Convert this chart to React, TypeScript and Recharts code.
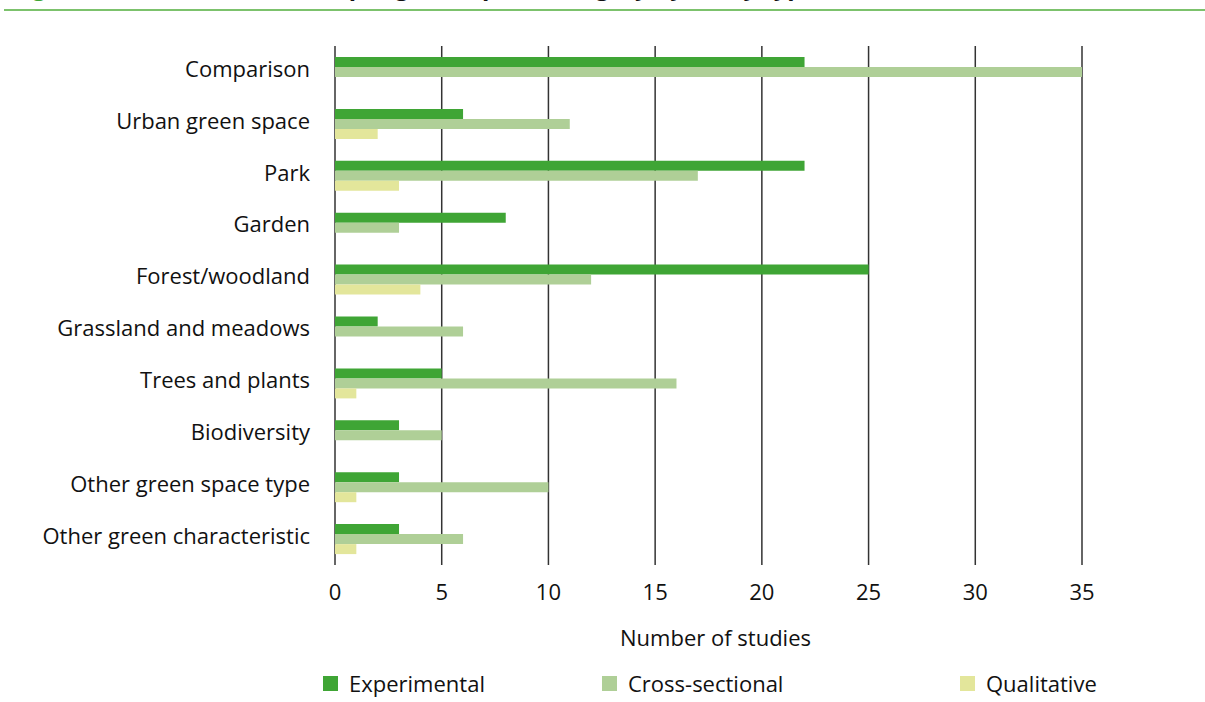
import React from "react";
import {
  BarChart,
  Bar,
  XAxis,
  YAxis,
  CartesianGrid,
  Label,
} from "recharts";

const categories = [
  "Comparison",
  "Urban green space",
  "Park",
  "Garden",
  "Forest/woodland",
  "Grassland and meadows",
  "Trees and plants",
  "Biodiversity",
  "Other green space type",
  "Other green characteristic",
];
const experimental = [22, 6, 22, 8, 25, 2, 5, 3, 3, 3];
const crossSectional = [35, 11, 17, 3, 12, 6, 16, 5, 10, 6];
const qualitative = [0, 2, 3, 0, 4, 0, 1, 0, 1, 1];
const xTicks = [0, 5, 10, 15, 20, 25, 30, 35];

const data = categories.map((name, i) => ({
  name,
  experimental: experimental[i],
  crossSectional: crossSectional[i],
  qualitative: qualitative[i],
}));

const FONT = "'Open Sans', Roboto, sans-serif";
const colors = {
  experimental: "#3fa535",
  crossSectional: "#afcf97",
  qualitative: "#e3e69b",
};

const legendItems = [
  { label: "Experimental", color: colors.experimental, left: 323 },
  { label: "Cross-sectional", color: colors.crossSectional, left: 602 },
  { label: "Qualitative", color: colors.qualitative, left: 960 },
];

export default function App() {
  return (
    <div
      style={{
        position: "absolute",
        left: 0,
        top: 0,
        width: 1205,
        height: 702,
        overflow: "hidden",
        background: "#fff",
        fontFamily: FONT,
      }}
    >
      {/* title, cut off at the top edge like in the source */}
      <div
        style={{
          position: "absolute",
          left: 12,
          top: -28,
          fontSize: 24,
          fontWeight: 700,
          whiteSpace: "nowrap",
          lineHeight: "28px",
        }}
      >
        <span style={{ color: colors.experimental }}>Figure 3:</span>{" "}
        <span style={{ color: "#111" }}>
          Number of studies per green space category by study type
        </span>
      </div>
      <div
        style={{
          position: "absolute",
          left: 4,
          top: 9,
          width: 1201,
          height: 2,
          background: "#7cc26c",
        }}
      />

      <div style={{ position: "absolute", left: 0, top: 0 }}>
        <BarChart
          width={1205}
          height={702}
          layout="vertical"
          data={data}
          margin={{ top: 46, right: 123, bottom: 47, left: 0 }}
          barSize={10}
          barGap={0}
        >
          <CartesianGrid
            horizontal={false}
            stroke="#333"
            strokeWidth={1.5}
          />
          <XAxis
            type="number"
            domain={[0, 35]}
            ticks={xTicks}
            axisLine={false}
            tickLine={false}
            height={90}
            tickMargin={13}
            tick={{ fill: "#111", fontSize: 22, fontFamily: FONT }}
          >
            <Label
              value="Number of studies"
              position="insideBottom"
              offset={9}
              dx={7}
              style={{ fill: "#111", fontSize: 22, fontFamily: FONT }}
            />
          </XAxis>
          <YAxis
            type="category"
            dataKey="name"
            width={335}
            axisLine={false}
            tickLine={false}
            tickMargin={19}
            interval={0}
            tick={{ fill: "#111", fontSize: 22, fontFamily: FONT, dy: -3 }}
          />
          <Bar
            dataKey="experimental"
            fill={colors.experimental}
            isAnimationActive={false}
          />
          <Bar
            dataKey="crossSectional"
            fill={colors.crossSectional}
            isAnimationActive={false}
          />
          <Bar
            dataKey="qualitative"
            fill={colors.qualitative}
            isAnimationActive={false}
          />
        </BarChart>
      </div>

      {legendItems.map((item) => (
        <div
          key={item.label}
          style={{
            position: "absolute",
            left: item.left,
            top: 668,
            display: "flex",
            alignItems: "center",
            fontSize: 22,
            color: "#111",
            whiteSpace: "nowrap",
          }}
        >
          <span
            style={{
              display: "inline-block",
              width: 15,
              height: 15,
              background: item.color,
              marginRight: 11,
            }}
          />
          {item.label}
        </div>
      ))}
    </div>
  );
}
